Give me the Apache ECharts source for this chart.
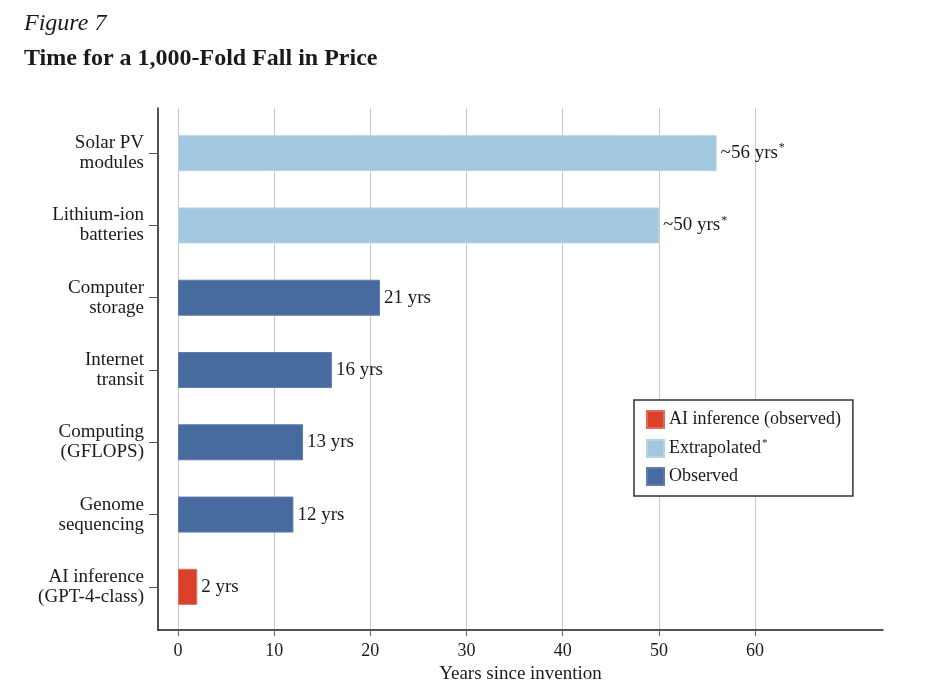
<!DOCTYPE html>
<html>
<head>
<meta charset="utf-8">
<script src="https://cdn.jsdelivr.net/npm/echarts@6/dist/echarts.min.js"></script>
<style>
  html, body { margin: 0; padding: 0; background: #fff; }
  #main { width: 928px; height: 689px; }
</style>
</head>
<body>
<div id="main"></div>
<script>
var categories = ['Solar PV\nmodules', 'Lithium-ion\nbatteries', 'Computer\nstorage', 'Internet\ntransit',
                  'Computing\n(GFLOPS)', 'Genome\nsequencing', 'AI inference\n(GPT-4-class)'];
var years = [56, 50, 21, 16, 13, 12, 2];
var kinds = ['Extrapolated', 'Extrapolated', 'Observed', 'Observed', 'Observed', 'Observed', 'AI inference (observed)'];
var xTicks = [0, 10, 20, 30, 40, 50, 60];

var serif = '"Liberation Serif", "DejaVu Serif", serif';
var colors = {
  'AI inference (observed)': '#d9412b',
  'Extrapolated': '#a2c8df',
  'Observed': '#476b9e'
};
var borders = {
  'AI inference (observed)': '#e46a55',
  'Extrapolated': '#b5d4e7',
  'Observed': '#5b7db0'
};

function seriesFor(name) {
  return {
    name: name,
    type: 'bar',
    stack: 'all',
    xAxisIndex: 1,
    yAxisIndex: 1,
    barWidth: 36,
    itemStyle: { color: colors[name], borderColor: borders[name], borderWidth: 1 },
    label: {
      show: true,
      position: 'right',
      distance: 4,
      fontFamily: serif,
      fontSize: 19,
      color: '#1a1a1a',
      formatter: function (p) {
        if (name === 'Extrapolated') return '~' + p.value + ' yrs{sup|*}';
        return p.value + ' yrs';
      },
      rich: {
        sup: { fontFamily: serif, fontSize: 12, color: '#1a1a1a', verticalAlign: 'top', padding: [0, 0, 10, 1] }
      }
    },
    data: years.map(function (v, i) { return kinds[i] === name ? v : '-'; })
  };
}

var legendNames = ['AI inference (observed)', 'Extrapolated', 'Observed'];

var myChart = echarts.init(document.getElementById('main'));
var option = {
  animation: false,
  title: [
    { text: 'Figure 7', left: 24, top: 12, padding: 0,
      textStyle: { fontFamily: serif, fontStyle: 'italic', fontWeight: 'normal', fontSize: 24, color: '#1a1a1a' } },
    { text: 'Time for a 1,000-Fold Fall in Price', left: 24, top: 47, padding: 0,
      textStyle: { fontFamily: serif, fontWeight: 'bold', fontSize: 24, color: '#1a1a1a' } }
  ],
  legend: {
    orient: 'vertical',
    left: 634,
    top: 400,
    padding: [10, 12, 10, 12],
    itemWidth: 17,
    itemHeight: 17,
    itemGap: 9,
    borderColor: '#333',
    borderWidth: 1.5,
    backgroundColor: '#fff',
    data: legendNames,
    icon: 'rect',
    formatter: function (n) { return n === 'Extrapolated' ? n + '{sup|*}' : n; },
    textStyle: {
      fontFamily: serif, fontSize: 18, color: '#1a1a1a',
      rich: { sup: { fontFamily: serif, fontSize: 11, verticalAlign: 'top', padding: [0, 0, 10, 1] } }
    }
  },
  grid: [
    { left: 158, right: 45, top: 108, bottom: 59 },
    { left: 158, right: 45, top: 117, height: 506 }
  ],
  xAxis: [
    {
      type: 'value', gridIndex: 0, min: -2.08, max: 73.3,
      name: 'Years since invention', nameLocation: 'middle', nameGap: 31,
      nameTextStyle: { fontFamily: serif, fontSize: 19, color: '#1a1a1a' },
      axisLine: { show: true, onZero: false, lineStyle: { color: '#1a1a1a', width: 1.5 } },
      axisTick: { show: true, customValues: xTicks, length: 6, lineStyle: { color: '#666' } },
      axisLabel: { customValues: xTicks, fontFamily: serif, fontSize: 18, color: '#1a1a1a', margin: 12 },
      splitLine: { show: true, lineStyle: { color: '#c8c8c8', width: 1 } }
    },
    {
      type: 'value', gridIndex: 1, min: -2.08, max: 73.3, show: false
    }
  ],
  yAxis: [
    {
      type: 'value', gridIndex: 0, min: 0, max: 1,
      axisLine: { show: true, onZero: false, lineStyle: { color: '#1a1a1a', width: 1.5 } },
      axisTick: { show: false }, axisLabel: { show: false }, splitLine: { show: false }
    },
    {
      type: 'category', gridIndex: 1, inverse: true, data: categories,
      axisLine: { show: false, onZero: false },
      axisTick: { show: true, alignWithLabel: true, length: 9, lineStyle: { color: '#555' } },
      axisLabel: { fontFamily: serif, fontSize: 19, lineHeight: 20, color: '#1a1a1a', align: 'right', margin: 14 },
      splitLine: { show: false }
    }
  ],
  series: legendNames.map(seriesFor)
};
myChart.setOption(option);
</script>
</body>
</html>
